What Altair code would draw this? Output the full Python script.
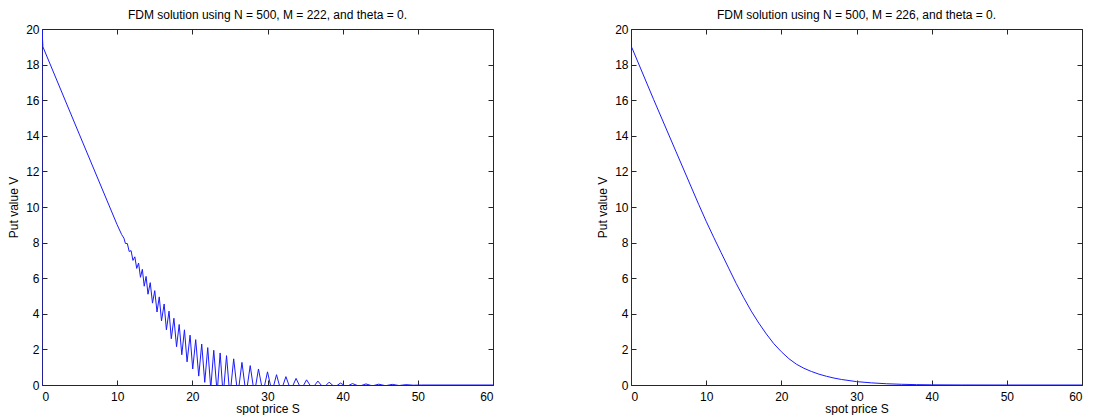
import altair as alt
import pandas as pd

# ---- data (spot price S, put value V) ----
left_S = [0, 0, 0.12, 5, 10, 10.6,
          10.9, 11.1, 11.35, 11.6, 11.85, 12.1, 12.35, 12.6, 12.85, 13.1, 13.35, 13.6,
          13.85, 14.1, 14.4, 14.7, 15.0, 15.3, 15.6, 15.9, 16.25, 16.55, 16.9, 17.2,
          17.55, 17.9, 18.25, 18.6, 18.95, 19.3, 19.7, 20.05, 20.45, 20.85, 21.25, 21.65,
          22.05, 22.45, 22.85, 23.3, 23.7, 24.1, 24.55, 25.0, 25.5, 26.05, 26.6, 27.15,
          27.7, 28.25, 28.8, 29.4, 30.0, 30.6, 31.2, 31.8, 32.45, 33.1, 33.8, 34.5,
          35.2, 35.95, 36.7, 37.45, 38.2, 38.95, 39.7, 40.5, 41.3, 42.2, 43.1, 43.95,
          44.8, 45.7, 46.6, 47.5, 48.4, 49.4, 50.5, 60]
left_V = [0, 20, 19.0, 14.05, 9.0, 8.45,
          8.25, 7.95, 7.95, 7.5, 7.55, 7.0, 7.2, 6.55, 6.85, 6.05, 6.5, 5.55,
          6.1, 5.1, 5.75, 4.6, 5.3, 4.1, 4.95, 3.6, 4.55, 3.1, 4.15, 2.6,
          3.75, 2.15, 3.4, 1.7, 3.1, 1.3, 2.8, 0.9, 2.55, 0.5, 2.3, 0.15,
          2.1, -0.2, 1.95, -0.45, 1.8, -0.6, 1.65, -0.65, 1.47, -0.6, 1.27, -0.55,
          1.09, -0.5, 0.9, -0.45, 0.74, -0.4, 0.58, -0.35, 0.47, -0.3, 0.37, -0.25,
          0.29, -0.2, 0.22, -0.16, 0.16, -0.12, 0.11, -0.09, 0.08, -0.07, 0.06, -0.05,
          0.045, -0.04, 0.035, -0.03, 0.02, -0.01, 0, 0]

right_S = [0, 0, 0.12, 3, 6, 9, 10, 11, 12, 13, 14, 15, 16, 17, 18, 19, 20, 21, 22,
           23, 24, 25, 26, 27, 28, 30, 32, 34, 36, 38, 40, 44, 50, 60]
right_V = [0, 19, 18.95, 16.05, 13.1, 10.15, 9.2, 8.3, 7.43, 6.56, 5.7, 4.9, 4.15,
           3.48, 2.87, 2.32, 1.87, 1.48, 1.17, 0.94, 0.76, 0.61, 0.49, 0.39, 0.31, 0.19,
           0.12, 0.07, 0.04, 0.02, 0.01, 0.003, 0, 0]

x_ticks = [0, 10, 20, 30, 40, 50, 60]
y_ticks = [0, 2, 4, 6, 8, 10, 12, 14, 16, 18, 20]

titles = ["FDM solution using N = 500, M = 222, and theta = 0.",
          "FDM solution using N = 500, M = 226, and theta = 0."]

FONT = "Liberation Sans"
LINE = "#1a1aff"
W, H = 451, 356


def panel(S, V, title):
    df = pd.DataFrame({"S": S, "V": V, "i": list(range(len(S)))})
    xs = alt.Scale(domain=[0, 60], nice=False, zero=False)
    ys = alt.Scale(domain=[0, 20], nice=False, zero=False)
    base = alt.Chart(df)
    line = base.mark_line(color=LINE, strokeWidth=1, clip=True).encode(
        x=alt.X("S:Q", scale=xs,
                axis=alt.Axis(values=x_ticks, title="spot price S", orient="bottom",
                              offset=-5, labelPadding=6, titlePadding=1)),
        y=alt.Y("V:Q", scale=ys,
                axis=alt.Axis(values=y_ticks, title="Put value V", orient="left",
                              offset=-5, labelPadding=3, titlePadding=5)),
        order="i:Q",
    )
    frame = base.mark_line(opacity=0).encode(
        x=alt.X("S:Q", scale=xs,
                axis=alt.Axis(values=x_ticks, title="", orient="top", labels=False,
                              offset=-5)),
        y=alt.Y("V:Q", scale=ys,
                axis=alt.Axis(values=y_ticks, title="", orient="right", labels=False,
                              offset=-5)),
        order="i:Q",
    )
    return alt.layer(line, frame).resolve_axis(x="independent", y="independent").properties(
        width=W, height=H,
        title=alt.TitleParams(title, fontSize=12, font=FONT, fontWeight="normal",
                              color="#000000", offset=1, anchor="middle"),
    )


chart = alt.hconcat(
    panel(left_S, left_V, titles[0]),
    panel(right_S, right_V, titles[1]),
    spacing=102,
).properties(
    padding={"top": 8, "left": 7, "right": 5, "bottom": 0},
    background="white",
).configure_view(
    stroke="#262626", strokeWidth=1
).configure_axis(
    domain=False, grid=False, tickSize=5, tickColor="#262626", tickWidth=1,
    labelFont=FONT, labelFontSize=12, labelColor="#000000",
    titleFont=FONT, titleFontSize=12, titleFontWeight="normal", titleColor="#000000",
)

chart.save("out.html", embed_options={"renderer": "svg", "actions": False})
